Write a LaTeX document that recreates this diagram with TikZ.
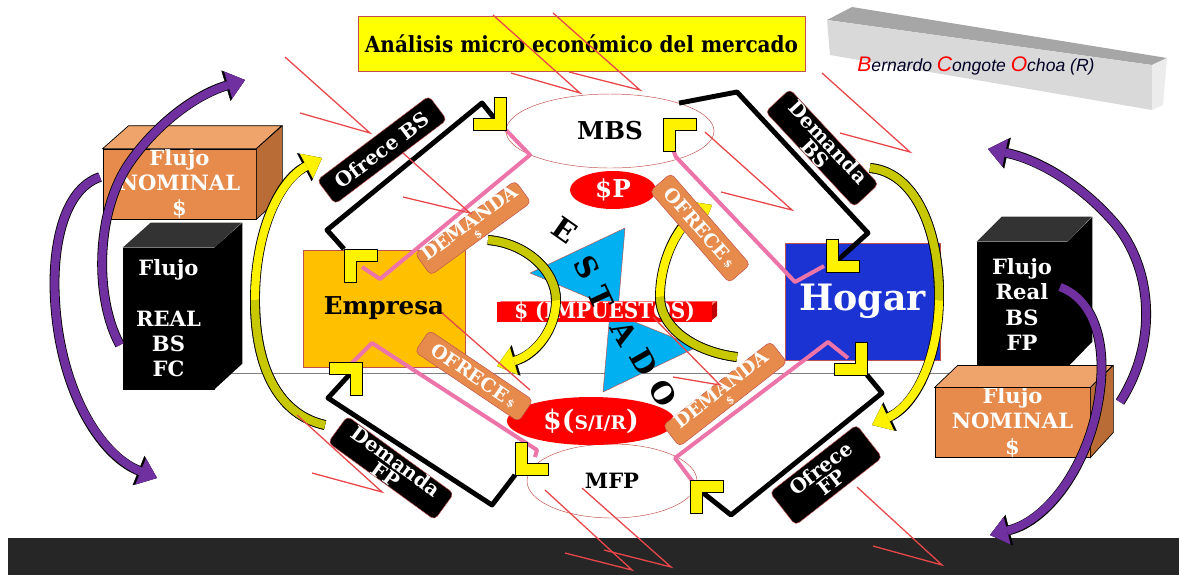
\documentclass[tikz,border=0pt]{standalone}
\usepackage{fontspec}
\setmainfont{DejaVu Serif}
\newfontfamily\condfont{DejaVu Serif Condensed}
\newfontfamily\authfont{Liberation Sans}
\usetikzlibrary{arrows.meta,shapes.geometric}
\definecolor{ttlyellow}{HTML}{FFFF00}
\definecolor{bordred}{HTML}{C0504D}
\definecolor{empgold}{HTML}{FFC000}
\definecolor{hogblue}{HTML}{1B33D3}
\definecolor{tricyan}{HTML}{00B0F0}
\definecolor{lblorange}{HTML}{E68B4C}
\definecolor{orangetop}{HTML}{EFA46C}
\definecolor{orangeside}{HTML}{B96C36}
\definecolor{flowpink}{HTML}{EC74A8}
\definecolor{arrpurple}{HTML}{7030A0}
\definecolor{arrolive}{HTML}{C8C800}
\definecolor{scribred}{HTML}{E8474A}
\definecolor{barblack}{HTML}{262626}
\newcommand{\fsz}[1]{\fontsize{#1}{#1}\selectfont}
\begin{document}
\begin{tikzpicture}[x=0.03cm, y=-0.03cm,
every node/.style={inner sep=0pt},
blacklbl/.style={draw=bordred, fill=black, rounded corners=4pt, text=white,
  font=\bfseries\fontsize{17}{15}\selectfont, align=center},
orangelbl/.style={draw=bordred, fill=lblorange, rounded corners=4pt, text=white,
  font=\bfseries\fontsize{16}{10}\selectfont, align=center},
flowblack/.style={line width=4.2pt, line join=round},
flowpinkln/.style={flowpink, line width=3.4pt, line join=round},
scrib/.style={scribred, line width=1.1pt},
curvearr/.style={#1, line width=7pt, -{Triangle[length=15pt, width=24pt, line width'=0.3pt]},
  preaction={draw=black, line width=8.4pt, -{Triangle[length=17pt, width=27pt, line width'=0.3pt]}}},
tailpart/.style={#1, line width=7pt, preaction={draw=black, line width=8.4pt}},
ltip/.pic={\draw[fill=yellow, line width=0.8pt] (0,0) -- (-33,0) -- (-33,12) -- (-12,12) -- (-12,33) -- (0,33) -- cycle;},
box3d/.style={draw=black, line width=0.6pt, text=white, align=center,
  font=\bfseries\fontsize{18}{21.5}\selectfont}]
\useasboundingbox (0,0) rectangle (1179,575);
\draw[gray, line width=0.6pt] (200,373) -- (1000,373);
\fill[barblack] (8,538) rectangle (1179,575);

\node[draw=bordred, fill=ttlyellow, minimum width=13.41cm, minimum height=1.65cm,
  font=\condfont\bfseries\fsz{19}] (titulo) at (581.5,43.5) {Análisis micro económico del mercado};
\fill[gray!70] (827,20) -- (852,7) -- (1167,58) -- (1152,65) -- cycle;
\fill[gray!30] (827,20) -- (1152,65) -- (1152,110) -- (830,55) -- cycle;
\fill[gray!15] (1152,65) -- (1167,58) -- (1163,105) -- (1152,110) -- cycle;
\node[font=\authfont\itshape\fsz{15}, text=black!85!blue] (autor) at (976,66)
  {\textcolor{red}{\fsz{18}B}ernardo \textcolor{red}{\fsz{18}C}ongote \textcolor{red}{\fsz{18}O}choa (R)};

\node[ellipse, draw=bordred, fill=white, minimum width=6.24cm, minimum height=2.22cm,
  font=\bfseries\fsz{21}] (mbs) at (610,131) {MBS};
\node[ellipse, draw=bordred, fill=white, minimum width=5.1cm, minimum height=2.22cm,
  font=\bfseries\fsz{18}] (mfp) at (612,481) {MFP};
\node[ellipse, fill=red, minimum width=2.58cm, minimum height=1.14cm, text=white,
  font=\bfseries\fsz{21}] (precio) at (613,190) {\$P};
\node[ellipse, fill=red, minimum width=5.04cm, minimum height=1.44cm, text=white,
  font=\bfseries\fsz{23}] (sir) at (591,421) {\$({\fsz{16}S/I/R})};

\draw[fill=tricyan, draw=bordred] (530,273) -- (625,228) -- (618,310) -- cycle;
\draw[fill=tricyan, draw=bordred] (603,392) -- (697,347) -- (610,312) -- cycle;
\fill[red!75!black] (712,305) -- (717,301) -- (717,316) -- (712,320) -- cycle;
\fill[red!60!white] (497,305) -- (501,301) -- (717,301) -- (712,305) -- cycle;
\node[fill=red, minimum width=6.45cm, minimum height=0.45cm, text=white,
  font=\condfont\bfseries\fsz{19}] (impuestos) at (604.5,312) {\$ (IMPUESTOS)};
\foreach \ch/\xx/\yy/\rt [count=\i] in {E/565/230/-35, S/587/267/-60, T/601/298/-65,
    A/624/333/-60, D/644/362/-60, O/663/393/-60}
  \node[font=\bfseries\fsz{25}, rotate=\rt] (estado\i) at (\xx,\yy) {\ch};

\node[fill=empgold, draw=bordred, minimum width=4.86cm, minimum height=3.51cm,
  font=\bfseries\fsz{21}] (empresa) at (384,308.5) {Empresa};
\node[fill=hogblue, draw=bordred, minimum width=4.65cm, minimum height=3.51cm, text=white,
  font=\bfseries\fsz{31}] (hogar) at (862.5,301.5) {Hogar};

\coordinate (tipA) at (344,249);
\coordinate (tipB) at (506,130);
\coordinate (tipC) at (663,118);
\coordinate (tipD) at (826,272);
\coordinate (tipE) at (867,375);
\coordinate (tipF) at (690,480);
\coordinate (tipG) at (515,475);
\coordinate (tipH) at (362,362);

\draw[flowblack] (tipA) -- (327,230) -- (482,103) -- ([shift={(-12,-12)}]tipB);
\draw[flowblack] (mbs.22) -- (737,92) -- (868,233) -- ([shift={(12,-12)}]tipD);
\draw[flowblack] (tipE) -- (882,393) -- (731,515) -- ([shift={(12,12)}]tipF);
\draw[flowblack] (tipG) -- (492,505) -- (328,398) -- ([shift={(-12,12)}]tipH);

\draw[flowpinkln] ([shift={(18,18)}]tipA) -- (380,279) -- (530,155) -- (tipB);
\draw[flowpinkln] ([shift={(6,22)}]tipC) -- (676,157) -- (795,282) -- ([shift={(-2,-6)}]tipD);
\draw[flowpinkln] ([shift={(-19,-17)}]tipE) -- (828,342) -- (675,458) -- ([shift={(3,2)}]tipF);
\draw[flowpinkln] ([shift={(-12,3)}]tipH) -- (372,343) -- (537,450) -- ([shift={(20,-18)}]tipG);

\coordinate (yilt) at (488,240); \coordinate (yilh) at (497,366);
\coordinate (yirt) at (737,357); \coordinate (yirh) at (712,205);
\draw[curvearr=yellow] (yilt) .. controls (525,243) and (556,270) .. (556,300)
  .. controls (556,330) and (535,355) .. (yilh);
\draw[tailpart=arrolive] (yilt) .. controls (525,243) and (556,270) .. (556,300);
\draw[curvearr=yellow] (yirt) .. controls (695,352) and (660,328) .. (660,297)
  .. controls (660,255) and (682,222) .. (yirh);
\draw[tailpart=arrolive] (yirt) .. controls (695,352) and (660,328) .. (660,297);

\node[blacklbl, minimum width=4.2cm, minimum height=0.9cm, rotate=37] (ofrecebs) at (382,150) {Ofrece BS};
\node[blacklbl, minimum width=3.9cm, minimum height=1.0cm, rotate=-47] (demandabs) at (822,148) {Demanda\\BS};
\node[blacklbl, minimum width=3.95cm, minimum height=0.9cm, rotate=-36] (demandafp) at (391,468) {Demanda\\FP};
\node[blacklbl, minimum width=3.3cm, minimum height=1.25cm, rotate=38] (ofrecefp) at (826,475) {Ofrece\\FP};

\node[orangelbl, minimum width=3.72cm, minimum height=0.8cm, rotate=36] (demandadin) at (473,228) {DEMANDA\\{\fsz{9}\$}};
\node[orangelbl, minimum width=3.63cm, minimum height=0.84cm, rotate=-49] (ofrecedin) at (700,228) {OFRECE\,{\fsz{9}\$}};
\node[orangelbl, minimum width=3.75cm, minimum height=0.78cm, rotate=-34] (ofrecedin2) at (474,376) {OFRECE\,{\fsz{9}\$}};
\node[orangelbl, minimum width=4.1cm, minimum height=0.8cm, rotate=38] (demandadin2) at (725,394) {DEMANDA\\{\fsz{9}\$}};

\pic[rotate=90] at (tipA) {ltip};
\pic[rotate=-90] at (tipB) {ltip};
\pic[rotate=90] at (tipC) {ltip};
\pic[rotate=180] at (tipD) {ltip};
\pic[rotate=-90] at (tipE) {ltip};
\pic[rotate=90] at (tipF) {ltip};
\pic[rotate=180] at (tipG) {ltip};
\pic[rotate=0] at (tipH) {ltip};

\node[box3d, fill=lblorange, minimum width=4.59cm, minimum height=2.1cm] (nomizq) at (179.5,184) {Flujo\\NOMINAL\\\$};
\draw[fill=orangetop, line width=0.6pt] (nomizq.north west) -- ++(26,-23) -- ++(153,0) -- (nomizq.north east) -- cycle;
\draw[fill=orangeside, line width=0.6pt] (nomizq.north east) -- ++(26,-23) -- ++(0,70) -- (nomizq.south east) -- cycle;
\node[box3d, fill=black, minimum width=2.73cm, minimum height=4.23cm] (realizq) at (168.5,318.5) {Flujo\\ \\REAL\\BS\\FC};
\fill[black!80] (realizq.north west) -- ++(28,-25) -- ++(91,0) -- (realizq.north east) -- cycle;
\fill[black] (realizq.north east) -- ++(28,-25) -- ++(0,141) -- (realizq.south east) -- cycle;
\node[box3d, fill=black, minimum width=2.7cm, minimum height=3.75cm] (realder) at (1022,304.5) {Flujo\\Real\\BS\\FP};
\fill[black!80] (realder.north west) -- ++(25,-25) -- ++(90,0) -- (realder.north east) -- cycle;
\fill[black] (realder.north east) -- ++(25,-25) -- ++(0,125) -- (realder.south east) -- cycle;
\node[box3d, fill=lblorange, minimum width=4.65cm, minimum height=2.01cm] (nomder) at (1012.5,422.5) {Flujo\\NOMINAL\\\$};
\draw[fill=orangetop, line width=0.6pt] (nomder.north west) -- ++(23,-22) -- ++(155,0) -- (nomder.north east) -- cycle;
\draw[fill=orangeside, line width=0.6pt] (nomder.north east) -- ++(23,-22) -- ++(0,67) -- (nomder.south east) -- cycle;

\coordinate (ylt) at (325,425); \coordinate (ylh) at (322,158);
\coordinate (yrt) at (870,168); \coordinate (yrh) at (872,425);
\draw[curvearr=yellow] (ylt) .. controls (280,415) and (255,370) .. (255,300)
  .. controls (255,230) and (280,180) .. (ylh);
\draw[tailpart=arrolive] (ylt) .. controls (280,415) and (255,370) .. (255,300);
\draw[curvearr=yellow] (yrt) .. controls (915,172) and (940,230) .. (939,300)
  .. controls (938,360) and (915,405) .. (yrh);
\draw[tailpart=arrolive] (yrt) .. controls (915,172) and (940,230) .. (939,300);

\coordinate (pl1t) at (120,345); \coordinate (pl1h) at (245,80);
\coordinate (pl2t) at (100,177); \coordinate (pl2h) at (157,478);
\coordinate (pr1t) at (1120,402); \coordinate (pr1h) at (988,149);
\coordinate (pr2t) at (1060,287); \coordinate (pr2h) at (990,535);
\draw[curvearr=arrpurple] (pl1t) .. controls (95,300) and (95,215) .. (128,165)
  .. controls (155,125) and (195,95) .. (pl1h);
\draw[curvearr=arrpurple] (pl2t) .. controls (62,190) and (52,250) .. (55,300)
  .. controls (60,390) and (100,455) .. (pl2h);
\draw[curvearr=arrpurple] (pr1t) .. controls (1160,340) and (1152,262) .. (1110,218)
  .. controls (1080,185) and (1040,160) .. (pr1h);
\draw[curvearr=arrpurple] (pr2t) .. controls (1095,300) and (1106,345) .. (1100,390)
  .. controls (1092,460) and (1050,520) .. (pr2h);

\draw[scrib] (285,57) -- (370,133) -- (300,113);
\draw[scrib] (403,153) -- (470,213) -- (403,197);
\draw[scrib] (493,15) -- (580,93) -- (511,73);
\draw[scrib] (553,13) -- (640,90) -- (569,72);
\draw[scrib] (705,132) -- (792,210) -- (721,192);
\draw[scrib] (822,73) -- (910,152) -- (840,133);
\draw[scrib] (442,313) -- (530,390);
\draw[scrib] (653,317) -- (720,385) -- (673,377);
\draw[scrib] (545,490) -- (632,570) -- (565,553);
\draw[scrib] (582,488) -- (671,567) -- (604,550);
\draw[scrib] (297,415) -- (382,492) -- (312,473);
\draw[scrib] (857,487) -- (942,565) -- (873,546);
\end{tikzpicture}
\end{document}
